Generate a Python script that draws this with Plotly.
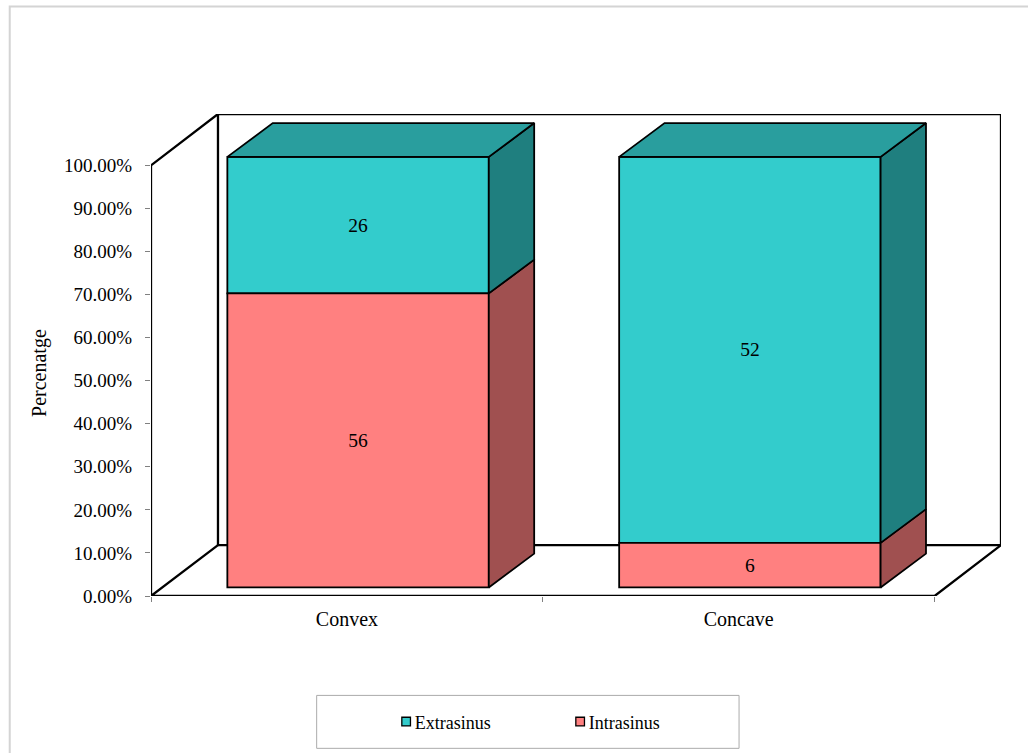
import plotly.graph_objects as go

# ---- data ----
categories = ["Convex", "Concave"]
extrasinus_counts = [26, 52]
intrasinus_counts = [56, 6]
extrasinus_pct = [31.71, 89.66]
intrasinus_pct = [68.29, 10.34]
y_ticks = [0, 10, 20, 30, 40, 50, 60, 70, 80, 90, 100]
y_tick_labels = ["0.00%", "10.00%", "20.00%", "30.00%", "40.00%", "50.00%",
                 "60.00%", "70.00%", "80.00%", "90.00%", "100.00%"]

# ---- style / geometry ----
W, H = 1028, 753
L, R, T, B = 151.3, 1001.5, 113.5, 596    # plot area in page pixels
X_UNIT = 391.9                            # px per category
Y_UNIT = 4.31                             # px per percent
X_MAX = (R - L) / X_UNIT
Y_MAX = (B - T) / Y_UNIT
WALL_DX, WALL_DY = 67 / X_UNIT, 51 / Y_UNIT
BAR_DX, BAR_DY = 45.4 / X_UNIT, 33.8 / Y_UNIT
BAR_W = 261.5 / X_UNIT
BAR_SHIFT_X, BAR_SHIFT_Y = 0.0285, 8.6 / Y_UNIT
CYAN, CYAN_SIDE, CYAN_TOP = "#33CCCC", "#1F7F7F", "#299E9E"
RED, RED_SIDE = "#FF8080", "#A05050"
SERIF = "Liberation Serif"
GREY = "#808080"

xpos = [i + 0.5 + BAR_SHIFT_X for i in range(len(categories))]
base_in = [BAR_SHIFT_Y] * len(categories)
base_ex = [BAR_SHIFT_Y + v for v in intrasinus_pct]


def px(x):
    return (x - L) / (R - L)


def py(y):
    return (B - y) / (B - T)


fig = go.Figure()

# outer wall and floor outline (the parts no bar passes in front of)
frame_x = [WALL_DX, 0, 0, WALL_DX, X_MAX, X_MAX, 2, 0]
frame_y = [WALL_DY, 0, 100, Y_MAX, Y_MAX, WALL_DY, 0, 0]
fig.add_trace(go.Scatter(x=frame_x, y=frame_y, mode="lines", cliponaxis=False,
                         line=dict(color="black", width=2.3), showlegend=False, hoverinfo="skip"))


def poly(xs, ys, fill):
    fig.add_trace(go.Scatter(x=xs + xs[:1], y=ys + ys[:1], mode="lines", fill="toself",
                             fillcolor=fill, cliponaxis=False,
                             line=dict(color="black", width=1.8),
                             showlegend=False, hoverinfo="skip"))


for i, xc in enumerate(xpos):
    xl, xr = xc - BAR_W / 2, xc + BAR_W / 2
    y0, y1, y2 = base_in[i], base_ex[i], base_ex[i] + extrasinus_pct[i]
    poly([xr, xr, xr + BAR_DX, xr + BAR_DX], [y0, y1, y1 + BAR_DY, y0 + BAR_DY], RED_SIDE)
    poly([xr, xr, xr + BAR_DX, xr + BAR_DX], [y1, y2, y2 + BAR_DY, y1 + BAR_DY], CYAN_SIDE)
    poly([xl, xr, xr + BAR_DX, xl + BAR_DX], [y2, y2, y2 + BAR_DY, y2 + BAR_DY], CYAN_TOP)

bar_font = dict(family=SERIF, size=19.5, color="black")
fig.add_trace(go.Bar(name="Extrasinus", x=xpos, y=extrasinus_pct, base=base_ex, width=BAR_W,
                     marker=dict(color=CYAN, line=dict(color="black", width=1.8)),
                     text=extrasinus_counts, textposition="inside", insidetextanchor="middle",
                     textangle=0, textfont=bar_font, hovertemplate="%{text}<extra>Extrasinus</extra>"))
fig.add_trace(go.Bar(name="Intrasinus", x=xpos, y=intrasinus_pct, base=base_in, width=BAR_W,
                     marker=dict(color=RED, line=dict(color="black", width=1.8)),
                     text=intrasinus_counts, textposition="inside", insidetextanchor="middle",
                     textangle=0, textfont=bar_font, hovertemplate="%{text}<extra>Intrasinus</extra>"))

fig.update_layout(
    width=W, height=H,
    autosize=False,
    barmode="overlay",
    paper_bgcolor="white",
    plot_bgcolor="white",
    font=dict(family=SERIF, size=19, color="black"),
    margin=dict(l=L, r=W - R, t=T, b=H - B, pad=0, autoexpand=False),
    xaxis=dict(
        range=[0, X_MAX], showgrid=False, zeroline=False, showline=False,
        tickmode="array", tickvals=[0.5, 1.5], ticktext=categories,
        tickfont=dict(family=SERIF, size=20),
        ticks="outside", ticklen=0, tickcolor=GREY, ticklabelstandoff=5,
        minor=dict(tickmode="array", tickvals=[0, 1, 2], ticks="outside", ticklen=5,
                   tickcolor=GREY, tickwidth=1, showgrid=False),
    ),
    yaxis=dict(
        range=[0, Y_MAX], showgrid=False, zeroline=False, showline=False,
        tickmode="array", tickvals=y_ticks, ticktext=y_tick_labels,
        tickfont=dict(family=SERIF, size=19),
        ticks="outside", ticklen=5, tickcolor=GREY, ticklabelstandoff=9,
    ),
    legend=dict(orientation="h", x=px(375), xanchor="left", y=py(722), yanchor="middle",
                entrywidth=129, entrywidthmode="pixels", bgcolor="rgba(0,0,0,0)",
                font=dict(family=SERIF, size=18)),
    annotations=[dict(text="Percenatge", textangle=-90, xref="paper", yref="paper",
                      x=px(40), y=py(373), showarrow=False, xanchor="center", yanchor="middle",
                      font=dict(family=SERIF, size=20))],
    shapes=[
        # chart-area and legend frames
        dict(type="rect", xref="paper", yref="paper", x0=px(10), x1=px(1045), y0=py(765), y1=py(5.8),
             line=dict(color="#D4D4D4", width=2), layer="below"),
        dict(type="rect", xref="paper", yref="paper", x0=px(317), x1=px(739.5), y0=py(748.5), y1=py(695.5),
             line=dict(color="#ABABAB", width=1), layer="below"),
        # back-wall edges that pass behind the bars
        dict(type="line", xref="x", yref="y", x0=WALL_DX, x1=WALL_DX, y0=WALL_DY, y1=Y_MAX,
             line=dict(color="black", width=2.3), layer="below"),
        dict(type="line", xref="x", yref="y", x0=WALL_DX, x1=X_MAX, y0=WALL_DY, y1=WALL_DY,
             line=dict(color="black", width=2.3), layer="below"),
    ],
)

fig.write_html(
    "out.html",
    config={"displayModeBar": False},
    post_script=(
        "document.body.style.margin='0';"
        "document.querySelectorAll('.legendsymbols').forEach(function(e){"
        "e.setAttribute('transform','translate(11.5,0)');});"
        "document.querySelectorAll('.legendsymbols path').forEach(function(e){"
        "e.setAttribute('transform',(e.getAttribute('transform')||'')+' scale(0.72)');});"
    ),
)
